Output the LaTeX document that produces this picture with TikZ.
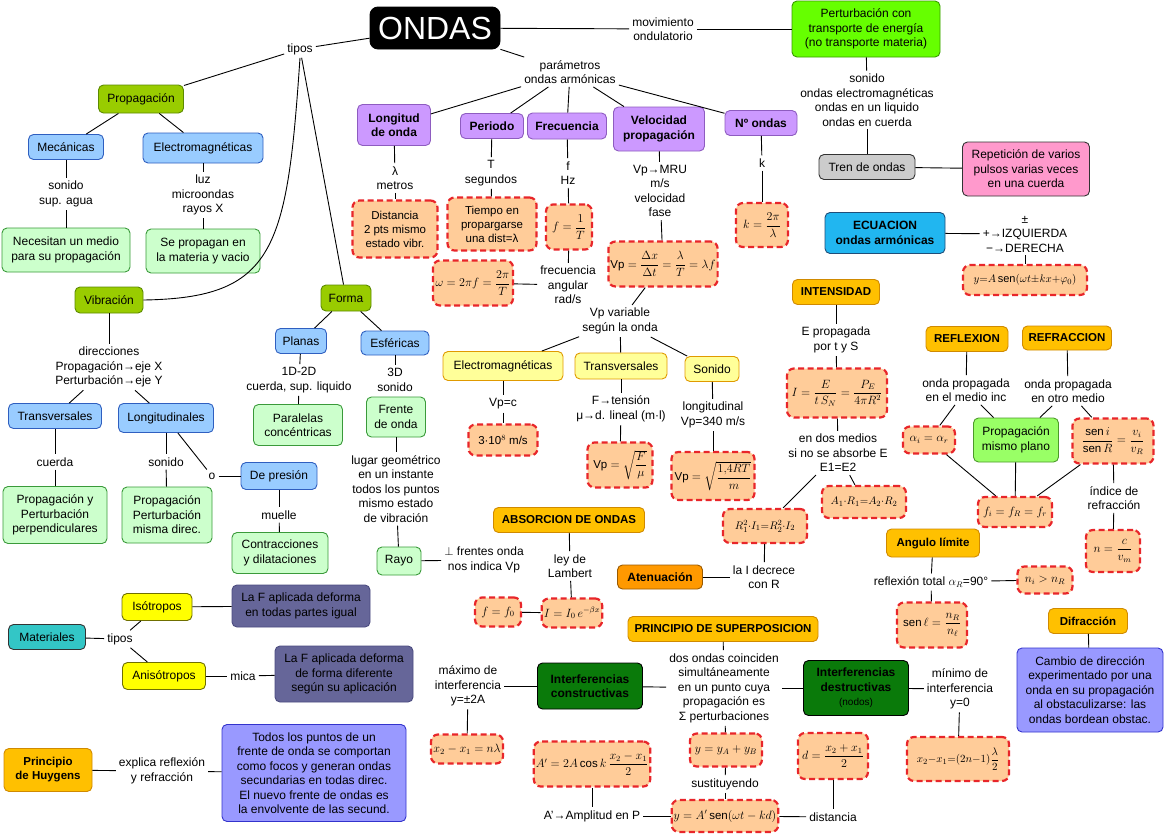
\documentclass[tikz,border=0pt]{standalone}
\usepackage{fontspec}
\setmainfont{Liberation Sans}
\usepackage{amsmath}
\usepackage{tikz}

\definecolor{lila}{HTML}{CC99FF}
\definecolor{lilaborde}{HTML}{8E5CC0}
\definecolor{celeste}{HTML}{99CCFF}
\definecolor{azulborde}{HTML}{2F5FC0}
\definecolor{menta}{HTML}{CCFFCC}
\definecolor{mentaborde}{HTML}{3A9A3A}
\definecolor{oliva}{HTML}{99CC00}
\definecolor{olivaborde}{HTML}{5C8A00}
\definecolor{melocoton}{HTML}{FFCC99}
\definecolor{rojo}{HTML}{E8262A}
\definecolor{ambar}{HTML}{FFC000}
\definecolor{ambarborde}{HTML}{D08A00}
\definecolor{naranja}{HTML}{FF9900}
\definecolor{naranjaborde}{HTML}{9A5A00}
\definecolor{crema}{HTML}{FFFF99}
\definecolor{cremaborde}{HTML}{E09A00}
\definecolor{limon}{HTML}{FFFF00}
\definecolor{limonborde}{HTML}{6F6F00}
\definecolor{lima}{HTML}{66FF00}
\definecolor{limaborde}{HTML}{3A9A00}
\definecolor{verde}{HTML}{99FF66}
\definecolor{verdeborde}{HTML}{4C9A2A}
\definecolor{rosa}{HTML}{FF99CC}
\definecolor{gris}{HTML}{CCCCCC}
\definecolor{oscuro}{HTML}{333333}
\definecolor{cian}{HTML}{21B6F0}
\definecolor{cianborde}{HTML}{1F4E79}
\definecolor{turquesa}{HTML}{33C6C6}
\definecolor{pizarra}{HTML}{666699}
\definecolor{pizarraborde}{HTML}{4C4C80}
\definecolor{lavanda}{HTML}{9999FF}
\definecolor{lavandaborde}{HTML}{3333CC}
\definecolor{bosque}{HTML}{0A7A0A}

\newcommand{\mapfont}{\fontsize{12}{14.5}\selectfont}

\begin{document}
\begin{tikzpicture}[
  x=1pt, y=-1pt,
  font=\mapfont,
  wh/.style 2 args={minimum width=#1pt, minimum height=#2pt},
  box/.style={rectangle, rounded corners=5pt, draw, line width=0.9pt,
              align=center, inner sep=2pt},
  txt/.style={align=center, inner sep=3pt},
  lilabox/.style={box, draw=lilaborde, fill=lila, font=\mapfont\bfseries},
  bluebox/.style={box, draw=azulborde, fill=celeste},
  mentabox/.style={box, draw=mentaborde, fill=menta},
  olivabox/.style={box, draw=olivaborde, fill=oliva},
  redbox/.style={box, draw=rojo, fill=melocoton, line width=2.2pt,
              dash pattern=on 6pt off 3.5pt, rounded corners=7pt,
              font=\fontsize{11.5}{14}\selectfont},
  smallmath/.style={font=\fontsize{11}{13}\selectfont},
  ambarbox/.style={box, draw=ambarborde, fill=ambar,
              font=\fontsize{11.5}{14}\selectfont\bfseries},
  naranjabox/.style={box, draw=naranjaborde, fill=naranja, font=\mapfont\bfseries},
  cremabox/.style={box, draw=cremaborde, fill=crema},
  limonbox/.style={box, draw=limonborde, fill=limon},
  limabox/.style={box, draw=limaborde, fill=lima},
  verdebox/.style={box, draw=verdeborde, fill=verde},
  rosabox/.style={box, draw=oscuro, fill=rosa},
  grisbox/.style={box, draw=oscuro, fill=gris},
  cianbox/.style={box, draw=cianborde, fill=cian, font=\mapfont\bfseries},
  turquesabox/.style={box, draw=oscuro, fill=turquesa},
  pizarrabox/.style={box, draw=pizarraborde, fill=pizarra},
  lavandabox/.style={box, draw=lavandaborde, fill=lavanda},
  bosquebox/.style={box, draw=black, fill=bosque, font=\mapfont\bfseries},
  link/.style={line width=0.9pt}
]
\path[fill=white] (0,0) rectangle (1165,833);
\useasboundingbox (0,0) rectangle (1165,833);

\node[box, fill=black, draw=black, rounded corners=8pt, wh={130}{42}, text=white,
      font=\fontsize{32}{36}\selectfont] (ondas) at (435,28) {ONDAS};
\node[txt] (tipos) at (300,49) {tipos};
\node[txt] (movim) at (663,29) {movimiento\\ondulatorio};
\node[limabox, wh={148}{56}] (perturb) at (866,29) {Perturbación con\\transporte de energía\\(no transporte materia)};
\node[txt] (param) at (570,72) {parámetros\\ondas armónicas};

\node[lilabox, wh={73}{41}] (longitud)   at (394,125) {Longitud\\de onda};
\node[lilabox, wh={63}{25}] (periodo)    at (492,126) {Periodo};
\node[lilabox, wh={79}{26}] (frecuencia) at (567,126) {Frecuencia};
\node[lilabox, wh={91}{44}] (velocidad)  at (659,129) {Velocidad\\propagación};
\node[lilabox, wh={72}{25}] (nondas)     at (761,123) {Nº ondas};

\node[txt] (lambdat) at (395,178) {λ\\metros};
\node[redbox, wh={85}{57}] (distancia) at (395,229) {Distancia\\2 pts mismo\\estado vibr.};
\node[txt] (periodot) at (491,173) {T\\segundos};
\node[redbox, wh={89}{53}] (tiempo) at (492,224) {Tiempo en\\propargarse\\una dist=λ};
\node[redbox, wh={80}{45}] (omega) at (473,283) {$\omega=2\pi f=\dfrac{2\pi}{T}$};
\node[txt] (frect) at (568,173) {f\\Hz};
\node[redbox, wh={46}{45}] (finv) at (569,227) {$f=\dfrac{1}{T}$};
\node[txt] (angular) at (568,285) {frecuencia\\angular\\rad/s};
\node[txt] (velt) at (660,191) {Vp→MRU\\m/s\\velocidad\\fase};
\node[redbox, wh={105}{45}] (vpform) at (663,264) {$\mathrm{Vp}=\dfrac{\Delta x}{\Delta t}=\dfrac{\lambda}{T}=\lambda f$};
\node[txt] (vpvar) at (620,321) {Vp variable\\según la onda};
\node[cremabox, wh={120}{29}] (emag2)   at (503,366) {Electromagnéticas};
\node[cremabox, wh={92}{26}]  (transv2) at (621,366) {Transversales};
\node[cremabox, wh={54}{25}]  (sonido2) at (712,369) {Sonido};
\node[txt] (vpc) at (503,404) {Vp=c};
\node[redbox, wh={69}{31}] (luzc) at (503,440) {3·10$^{8}$ m/s};
\node[txt] (tension) at (621,409) {F→tensión\\μ→d. lineal (m·l)};
\node[redbox, wh={65}{45}] (vpcuerda) at (620,465) {$\mathrm{Vp}=\sqrt{\dfrac{F}{\mu}}$};
\node[txt] (sonidot) at (713,415) {longitudinal\\Vp=340 m/s};
\node[redbox, wh={83}{48}] (vpsonido) at (713,476) {$\mathrm{Vp}=\sqrt{\dfrac{1{,}4RT}{m}}$};
\node[txt] (kt) at (762,163) {k};
\node[redbox, wh={52}{44}] (kform) at (762,225) {$k=\dfrac{2\pi}{\lambda}$};

\node[txt] (ejemplos) at (867,100) {sonido\\ondas electromagnéticas\\ondas en un liquido\\ondas en cuerda};
\node[grisbox, wh={96}{25}] (tren) at (867,167) {Tren de ondas};
\node[rosabox, wh={127}{54}] (repeticion) at (1026,169) {Repetición de varios\\pulsos varias veces\\en una cuerda};
\node[cianbox, wh={120}{41}] (ecuacion) at (885,233) {ECUACION\\ondas armónicas};
\node[txt] (signos) at (1025,234) {±\\+→IZQUIERDA\\−→DERECHA};
\node[redbox, smallmath, wh={124}{30}] (yonda) at (1025,280) {$y{=}A\,\mathrm{sen}(\omega t{\pm}kx{+}\varphi_0)$};

\node[ambarbox, wh={87}{25}] (intensidad) at (836,292) {INTENSIDAD};
\node[txt] (epropagada) at (836,340) {E propagada\\por t y S};
\node[redbox, wh={100}{49}] (iform) at (837,393) {$I=\dfrac{E}{t\,S_N}=\dfrac{P_E}{4\pi R^2}$};
\node[txt] (dosmedios) at (838,453) {en dos medios\\si no se absorbe E\\E1=E2};
\node[redbox, smallmath, wh={84}{34}] (rform) at (765,526) {$R_1^2{\cdot}I_1{=}R_2^2{\cdot}I_2$};
\node[redbox, smallmath, wh={84}{32}] (aform) at (864,502) {$A_1{\cdot}R_1{=}A_2{\cdot}R_2$};
\node[txt] (decrece) at (764,577) {la I decrece\\con R};
\node[naranjabox, wh={85}{24}] (atenuacion) at (660,577) {Atenuación};

\node[ambarbox, wh={82}{25}] (reflexion)  at (967,339)  {REFLEXION};
\node[ambarbox, wh={89}{24}] (refraccion) at (1067,338) {REFRACCION};
\node[txt] (medioinc)  at (966,390)  {onda propagada\\en el medio inc};
\node[txt] (otromedio) at (1068,391) {onda propagada\\en otro medio};
\node[redbox, wh={52}{27}] (alfas) at (929,440) {$\alpha_i=\alpha_r$};
\node[verdebox, wh={85}{44}] (mismoplano) at (1016,440) {Propagación\\mismo plano};
\node[redbox, wh={81}{45}] (snell) at (1113,441) {$\dfrac{\mathrm{sen}\,i}{\mathrm{sen}\,R}=\dfrac{v_i}{v_R}$};
\node[redbox, wh={74}{30}] (frecs) at (1015,512) {$f_i=f_R=f_r$};
\node[txt] (indice) at (1114,498) {índice de\\refracción};
\node[redbox, wh={54}{42}] (nform) at (1113,551) {$n=\dfrac{c}{v_m}$};

\node[ambarbox, wh={93}{28}] (angulo) at (933,543) {Angulo límite};
\node[txt] (reftotal) at (931,582) {reflexión total $\alpha_R$=90°};
\node[redbox, wh={55}{27}] (nimayor) at (1045,580) {$n_i>n_R$};
\node[redbox, wh={70}{45}] (senl) at (932,625) {$\mathrm{sen}\,\ell=\dfrac{n_R}{n_\ell}$};
\node[ambarbox, wh={79}{25}] (difraccion) at (1088,621) {Difracción};
\node[lavandabox, wh={146}{84}] (difdesc) at (1090,690) {Cambio de dirección\\experimentado por una\\onda en su propagación\\al obstaculizarse: las\\ondas bordean obstac.};

\node[olivabox, wh={85}{28}] (propagacion) at (141,99) {Propagación};
\node[bluebox, wh={75}{25}]  (mecanicas) at (66,147)  {Mecánicas};
\node[bluebox, wh={120}{30}] (emag1)     at (203,148) {Electromagnéticas};
\node[txt] (sonidoagua) at (66,194) {sonido\\sup. agua};
\node[txt] (luz) at (203,195) {luz\\microondas\\rayos X};
\node[mentabox, wh={128}{44}] (necesitan)  at (66,250)  {Necesitan un medio\\para su propagación};
\node[mentabox, wh={114}{44}] (sepropagan) at (203,251) {Se propagan en\\la materia y vacio};

\node[olivabox, wh={68}{26}] (vibracion) at (109,300) {Vibración};
\node[txt] (direcciones) at (109,367) {direcciones\\Propagación→eje X\\Perturbación→eje Y};
\node[bluebox, wh={93}{25}] (transv1) at (55,416)  {Transversales};
\node[bluebox, wh={95}{29}] (longit)  at (166,418) {Longitudinales};
\node[txt] (cuerda)  at (55,462)  {cuerda};
\node[txt] (sonido1) at (166,462) {sonido};
\node[mentabox, wh={104}{57}] (perpend)  at (55,515)  {Propagación y\\Perturbación\\perpendiculares};
\node[mentabox, wh={90}{56}]  (mismadir) at (167,515) {Propagación\\Perturbación\\misma direc.};
\node[txt] (otxt) at (212,476) {o};
\node[bluebox, wh={76}{27}] (presion) at (279,476) {De presión};
\node[txt] (muelle) at (279,515) {muelle};
\node[mentabox, wh={96}{41}] (contracciones) at (280,553) {Contracciones\\y dilataciones};

\node[olivabox, wh={50}{26}] (forma) at (346,298) {Forma};
\node[bluebox, wh={51}{25}] (planas)    at (301,341) {Planas};
\node[bluebox, wh={68}{24}] (esfericas) at (395,343) {Esféricas};
\node[txt] (planast) at (299,380) {1D-2D\\cuerda, sup. liquido};
\node[txt] (esfericast) at (395,380) {3D\\sonido};
\node[mentabox, wh={89}{41}] (paralelas) at (298,425) {Paralelas\\concéntricas};
\node[mentabox, wh={59}{40}] (frente) at (396,417) {Frente\\de onda};
\node[txt] (lugar) at (396,489) {lugar geométrico\\en un instante\\todos los puntos\\mismo estado\\de vibración};
\node[mentabox, wh={44}{28}] (rayo) at (399,561) {Rayo};
\node[txt] (perpfrentes) at (484,560) {$\perp$ frentes onda\\nos indica Vp};

\node[ambarbox, wh={151}{25}] (absorcion) at (569,520) {ABSORCION DE ONDAS};
\node[txt] (lambert) at (570,566) {ley de\\Lambert};
\node[redbox, wh={60}{29}] (iexp)   at (572,613) {$I=I_0\,e^{-\beta x}$};
\node[redbox, wh={46}{29}] (ffcero) at (498,612) {$f=f_0$};

\node[turquesabox, wh={77}{25}] (materiales) at (47,637) {Materiales};
\node[txt] (tipos2) at (120,639) {tipos};
\node[limonbox, wh={70}{27}] (isotropos)   at (157,607) {Isótropos};
\node[limonbox, wh={83}{27}] (anisotropos) at (164,676) {Anisótropos};
\node[pizarrabox, wh={138}{42}] (isodesc) at (301,606) {La F aplicada deforma\\en todas partes igual};
\node[txt] (mica) at (243,676) {mica};
\node[pizarrabox, wh={138}{56}] (anisodesc) at (344,674) {La F aplicada deforma\\de forma diferente\\según su aplicación};

\node[ambarbox, wh={88}{43}] (huygens) at (48,770) {Principio\\de Huygens};
\node[txt] (explica) at (162,771) {explica reflexión\\y refracción};
\node[lavandabox, wh={184}{97}] (huydesc) at (314,773) {Todos los puntos de un\\frente de onda se comportan\\como focos y generan ondas\\secundarias en todas direc.\\El nuevo frente de ondas es\\la envolvente de las secund.};

\node[ambarbox, wh={190}{25}] (superposicion) at (723,629) {PRINCIPIO DE SUPERPOSICION};
\node[txt] (coinciden) at (724,688) {dos ondas coinciden\\simultáneamente\\en un punto cuya\\propagación es\\Σ perturbaciones};
\node[bosquebox, wh={105}{46}] (constructivas) at (590,686) {Interferencias\\constructivas};
\node[bosquebox, wh={105}{55}] (destructivas) at (856,688) {Interferencias\\destructivas\\{\mdseries\fontsize{10}{12}\selectfont (nodos)}};
\node[txt] (maximo) at (468,686) {máximo de\\interferencia\\y=±2A};
\node[txt] (minimo) at (960,689) {mínimo de\\interferencia\\y=0};
\node[redbox, wh={72}{29}]  (maxform) at (467,749) {$x_2-x_1=n\lambda$};
\node[redbox, smallmath, wh={102}{44}] (minform) at (958,759) {$x_2{-}x_1{=}(2n{-}1)\dfrac{\lambda}{2}$};
\node[redbox, wh={72}{33}] (suma) at (726,750) {$y=y_A+y_B$};
\node[txt] (sustituyendo) at (725,784) {sustituyendo};
\node[redbox, wh={97}{32}] (resultante) at (725,816) {$y=A'\,\mathrm{sen}(\omega t-kd)$};
\node[redbox, wh={113}{45}] (amplitudform) at (592,764) {$A'=2A\cos k\,\dfrac{x_2-x_1}{2}$};
\node[txt] (amplitud) at (592,816) {A'→Amplitud en P};
\node[redbox, wh={70}{46}] (dform) at (833,756) {$d=\dfrac{x_2+x_1}{2}$};
\node[txt] (distancia2) at (833,817) {distancia};

\draw[link] (ondas) -- (tipos);
\draw[link] (ondas) -- (movim);
\draw[link] (movim) -- (perturb);
\draw[link] (ondas) -- (param);
\draw[link] (param) -- (longitud);
\draw[link] (param) -- (periodo);
\draw[link] (param) -- (frecuencia);
\draw[link] (param) -- (velocidad);
\draw[link] (param) -- (nondas);
\draw[link] (longitud) -- (lambdat);
\draw[link] (lambdat) -- (distancia);
\draw[link] (periodo) -- (periodot);
\draw[link] (periodot) -- (tiempo);
\draw[link] (frecuencia) -- (frect);
\draw[link] (frect) -- (finv);
\draw[link] (finv) -- (angular);
\draw[link] (omega) -- (angular);
\draw[link] (velocidad) -- (velt);
\draw[link] (velt) -- (vpform);
\draw[link] (vpform) -- (vpvar);
\draw[link] (vpvar) -- (emag2);
\draw[link] (vpvar) -- (transv2);
\draw[link] (vpvar) -- (sonido2);
\draw[link] (emag2) -- (vpc);
\draw[link] (vpc) -- (luzc);
\draw[link] (transv2) -- (tension);
\draw[link] (tension) -- (vpcuerda);
\draw[link] (sonido2) -- (sonidot);
\draw[link] (sonidot) -- (vpsonido);
\draw[link] (nondas) -- (kt);
\draw[link] (kt) -- (kform);
\draw[link] (perturb) -- (ejemplos);
\draw[link] (ejemplos) -- (tren);
\draw[link] (tren) -- (repeticion);
\draw[link] (ecuacion) -- (signos);
\draw[link] (signos) -- (yonda);

\draw[link] (intensidad) -- (epropagada);
\draw[link] (epropagada) -- (iform);
\draw[link] (iform) -- (dosmedios);
\draw[link] (dosmedios) -- (rform);
\draw[link] (dosmedios) -- (aform);
\draw[link] (rform) -- (decrece);
\draw[link] (atenuacion) -- (decrece);
\draw[link] (reflexion) -- (medioinc);
\draw[link] (medioinc) -- (alfas);
\draw[link] (medioinc) -- (mismoplano);
\draw[link] (refraccion) -- (otromedio);
\draw[link] (otromedio) -- (mismoplano);
\draw[link] (otromedio) -- (snell);
\draw[link] (alfas) -- (frecs);
\draw[link] (mismoplano) -- (frecs);
\draw[link] (snell) -- (frecs);
\draw[link] (snell) -- (indice);
\draw[link] (indice) -- (nform);
\draw[link] (angulo) -- (reftotal);
\draw[link] (reftotal) -- (nimayor);
\draw[link] (reftotal) -- (senl);
\draw[link] (difraccion) -- (difdesc);

\draw[link] (tipos) -- (propagacion);
\draw[link] (tipos.south) .. controls (287,250) and (275,298) .. (vibracion.east);
\draw[link] (tipos) -- (forma);
\draw[link] (propagacion) -- (mecanicas);
\draw[link] (propagacion) -- (emag1);
\draw[link] (mecanicas) -- (sonidoagua);
\draw[link] (sonidoagua) -- (necesitan);
\draw[link] (emag1) -- (luz);
\draw[link] (luz) -- (sepropagan);
\draw[link] (vibracion) -- (direcciones);
\draw[link] (direcciones) -- (transv1);
\draw[link] (direcciones) -- (longit);
\draw[link] (transv1) -- (cuerda);
\draw[link] (cuerda) -- (perpend);
\draw[link] (longit) -- (sonido1);
\draw[link] (sonido1) -- (mismadir);
\draw[link] (longit) -- (otxt);
\draw[link] (otxt) -- (presion);
\draw[link] (presion) -- (muelle);
\draw[link] (muelle) -- (contracciones);
\draw[link] (forma) -- (planas);
\draw[link] (forma) -- (esfericas);
\draw[link] (planas) -- (planast);
\draw[link] (planast) -- (paralelas);
\draw[link] (esfericas) -- (esfericast);
\draw[link] (frente) -- (lugar);
\draw[link] (lugar) -- (rayo);
\draw[link] (rayo) -- (perpfrentes);
\draw[link] (absorcion) -- (lambert);
\draw[link] (lambert) -- (iexp);
\draw[link] (ffcero) -- (iexp);
\draw[link] (materiales) -- (tipos2);
\draw[link] (tipos2) -- (isotropos);
\draw[link] (tipos2) -- (anisotropos);
\draw[link] (isotropos) -- (isodesc);
\draw[link] (anisotropos) -- (mica);
\draw[link] (mica) -- (anisodesc);
\draw[link] (huygens) -- (explica);
\draw[link] (explica) -- (huydesc);

\draw[link] (superposicion) -- (coinciden);
\draw[link] (coinciden) -- (constructivas);
\draw[link] (coinciden) -- (destructivas);
\draw[link] (constructivas) -- (maximo);
\draw[link] (maximo) -- (maxform);
\draw[link] (destructivas) -- (minimo);
\draw[link] (minimo) -- (minform);
\draw[link] (coinciden) -- (suma);
\draw[link] (suma) -- (sustituyendo);
\draw[link] (sustituyendo) -- (resultante);
\draw[link] (amplitudform) -- (amplitud);
\draw[link] (amplitud) -- (resultante);
\draw[link] (dform) -- (distancia2);
\draw[link] (resultante) -- (distancia2);
\end{tikzpicture}
\end{document}
